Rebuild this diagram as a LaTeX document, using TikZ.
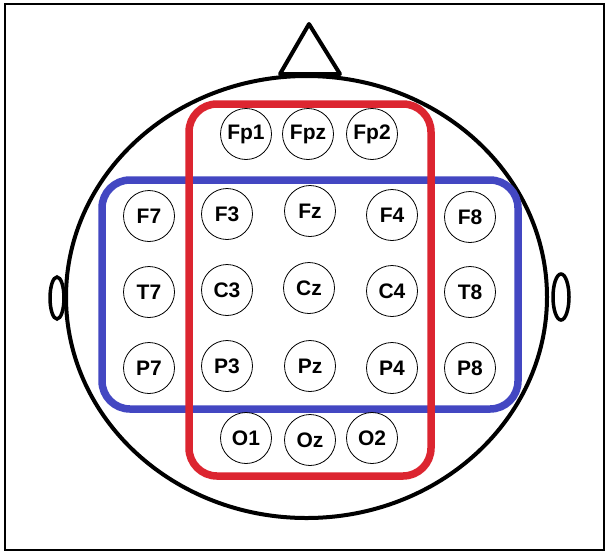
\documentclass[tikz,border=0pt]{standalone}
\usepackage{tikz}
\usetikzlibrary{shapes.geometric}
\usepackage{fontspec}
\setmainfont{Liberation Sans}
\usepackage{xcolor}
\definecolor{eegred}{HTML}{DC2530}
\definecolor{eegblue}{HTML}{4347C2}

\begin{document}
\begin{tikzpicture}[x=1pt, y=-1pt,
      every node/.style={font=\fontsize{21}{21}\selectfont\bfseries},
      electrode/.style={circle, draw, line width=0.8pt, minimum size=51pt, inner sep=0pt},
      headline/.style={line width=4pt, line join=round},
      region/.style={line width=7.5pt, rounded corners=28pt},
    ]
    \useasboundingbox (0,0) rectangle (609,554);
    \draw[line width=1.8pt] (5,4) rectangle (604,550);
    \draw[line width=3.5pt] (57,298) ellipse [x radius=7, y radius=21];
    \draw[line width=3.5pt] (561,297) ellipse [x radius=8, y radius=23];
    \draw[headline, fill=white] (306.5,297) ellipse [x radius=240.5, y radius=221];
    \draw[headline, fill=white] (280,74) -- (309,24) -- (340,74) -- cycle;
    \draw[region, eegblue] (102,180) rectangle (518,409);
    \draw[region, eegred] (189,104) rectangle (431,476);
    \node[electrode] (fp1) at (246,134) {Fp1};
    \node[electrode] (fpz) at (308,134) {Fpz};
    \node[electrode] (fp2) at (372,134) {Fp2};
    \node[electrode] (f7) at (149,216) {F7};
    \node[electrode] (f3) at (227,214) {F3};
    \node[electrode] (fz) at (310,211) {Fz};
    \node[electrode] (f4) at (392,215) {F4};
    \node[electrode] (f8) at (470,217) {F8};
    \node[electrode] (t7) at (149,292) {T7};
    \node[electrode] (c3) at (227,290) {C3};
    \node[electrode] (cz) at (309,288) {Cz};
    \node[electrode] (c4) at (392,291) {C4};
    \node[electrode] (t8) at (470,292) {T8};
    \node[electrode] (p7) at (149,368) {P7};
    \node[electrode] (p3) at (227,366) {P3};
    \node[electrode] (pz) at (310,366) {Pz};
    \node[electrode] (p4) at (392,368) {P4};
    \node[electrode] (p8) at (470,368) {P8};
    \node[electrode] (o1) at (246,438) {O1};
    \node[electrode] (oz) at (310,440) {Oz};
    \node[electrode] (o2) at (372,438) {O2};
  \end{tikzpicture}
\end{document}
